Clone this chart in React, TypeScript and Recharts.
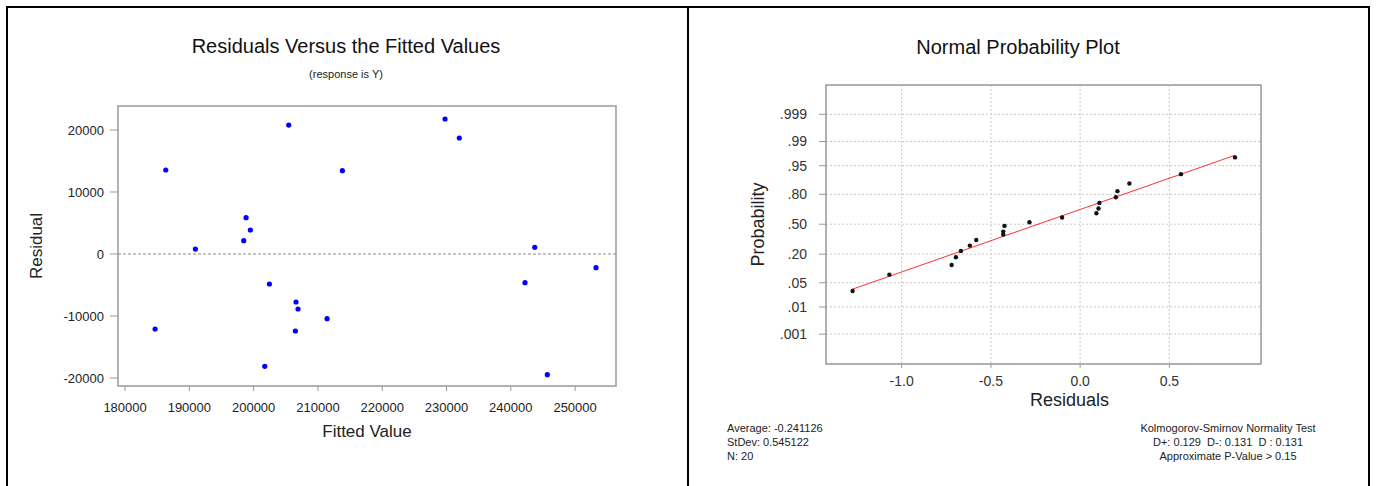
import React from "react";
import {
  ScatterChart,
  Scatter,
  XAxis,
  YAxis,
  CartesianGrid,
  ReferenceLine,
  ReferenceArea,
  Label,
} from "recharts";

// residuals vs fits (left panel)
const fittedValues = [
  184670, 186330, 190940, 198460, 198820, 199490, 201730, 202450, 205460, 206590,
  206900, 206490, 211420, 213800, 229770, 231990, 243720, 242210, 245680, 253250,
];
const residualValues = [
  -12100, 13550, 800, 2150, 5860, 3870, -18110, -4840, 20800, -7740,
  -8870, -12420, -10430, 13440, 21770, 18710, 1080, -4620, -19460, -2200,
];
const fittedTicks = [180000, 190000, 200000, 210000, 220000, 230000, 240000, 250000];
const residualTicks = [-20000, -10000, 0, 10000, 20000];
const fittedDomain = [178900, 256360];
const residualDomain = [-21290, 23870];

// normal probability plot (right panel)
const sortedResiduals = [
  -1.275, -1.069, -0.72, -0.696, -0.668, -0.618, -0.582, -0.431, -0.431, -0.424,
  -0.284, -0.101, 0.091, 0.103, 0.108, 0.2, 0.209, 0.276, 0.565, 0.868,
];
const normalScores = [
  -1.879, -1.418, -1.146, -0.93, -0.752, -0.601, -0.442, -0.291, -0.207, -0.047,
  0.056, 0.188, 0.31, 0.441, 0.6, 0.76, 0.93, 1.146, 1.408, 1.879,
];
const fitLineResiduals = [-1.278, 0.868];
const fitLineScores = [-1.83, 1.94];
const residualAxisTicks = [-1.0, -0.5, 0.0, 0.5];
const probabilityScores = [-3.09, -2.326, -1.645, -0.842, 0, 0.842, 1.645, 2.326, 3.09];
const probabilityLabels = [".001", ".01", ".05", ".20", ".50", ".80", ".95", ".99", ".999"];
const npDomainX = [-1.424, 1.0134];
const npDomainY = [-3.93, 3.915];

const statsLeft = ["Average: -0.241126", "StDev: 0.545122", "N: 20"];
const statsRight = [
  "Kolmogorov-Smirnov Normality Test",
  "D+: 0.129  D-: 0.131  D : 0.131",
  "Approximate P-Value > 0.15",
];

const FONT = 'Arial, "Liberation Sans", sans-serif';
const BOX = "#9a9a9a";

const fitsData = fittedValues.map((x, i) => ({ x, y: residualValues[i] }));
const npData = sortedResiduals.map((x, i) => ({ x, y: normalScores[i] }));
const lineData = fitLineResiduals.map((x, i) => ({ x, y: fitLineScores[i] }));

const blueDot = (p: any) => <circle cx={p.cx} cy={p.cy} r={2.6} fill="#0000ff" />;
const blackDot = (p: any) => <circle cx={p.cx} cy={p.cy} r={2.2} fill="#111" />;

// axis title drawn relative to the axis box
const axisTitle = (text: string, size: number, dx: number, dy: number, vertical = false) =>
  (p: any) => {
    const vb = p.viewBox;
    if (vertical) {
      const x = vb.x + dx;
      const y = vb.y + vb.height / 2 + dy;
      return (
        <text x={x} y={y} transform={`rotate(-90, ${x}, ${y})`} textAnchor="middle"
          dominantBaseline="central" fontSize={size} fill="#222" fontFamily={FONT}>
          {text}
        </text>
      );
    }
    return (
      <text x={vb.x + vb.width / 2 + dx} y={vb.y + dy} textAnchor="middle"
        dominantBaseline="central" fontSize={size} fill="#222" fontFamily={FONT}>
        {text}
      </text>
    );
  };

const line = (style: React.CSSProperties) => (
  <div style={{ position: "absolute", background: "#000", ...style }} />
);

export default function App() {
  return (
    <div style={{ position: "absolute", left: 0, top: 0, width: 1376, height: 486,
      background: "#fff", overflow: "hidden", fontFamily: FONT }}>
      {line({ left: 6, top: 6, width: 1364, height: 2 })}
      {line({ left: 6, top: 6, width: 2, height: 480 })}
      {line({ left: 687, top: 6, width: 2, height: 480 })}
      {line({ left: 1368, top: 6, width: 2, height: 480 })}

      {/* left panel */}
      <div style={{ position: "absolute", left: 146, top: 34, width: 400, textAlign: "center",
        fontSize: 20, lineHeight: "24px", color: "#111" }}>
        Residuals Versus the Fitted Values
      </div>
      <div style={{ position: "absolute", left: 246, top: 67, width: 200, textAlign: "center",
        fontSize: 11, lineHeight: "14px", color: "#222" }}>
        (response is Y)
      </div>
      <div style={{ position: "absolute", left: 0, top: 0 }}>
        <ScatterChart width={688} height={486} margin={{ top: 106, right: 72, bottom: 70, left: 58 }}>
          <XAxis type="number" dataKey="x" domain={fittedDomain} ticks={fittedTicks}
            allowDataOverflow axisLine={false} tickSize={5} tickMargin={12}
            tickLine={{ stroke: BOX }} tick={{ fill: "#222", fontSize: 13 }} height={30}>
            <Label content={axisTitle("Fitted Value", 17, 0, 45)} />
          </XAxis>
          <YAxis type="number" dataKey="y" domain={residualDomain} ticks={residualTicks}
            allowDataOverflow axisLine={false} tickSize={8} tickMargin={6}
            tickLine={{ stroke: BOX }} tick={{ fill: "#222", fontSize: 13 }} width={60}>
            <Label content={axisTitle("Residual", 17, -22, 0, true)} />
          </YAxis>
          <ReferenceArea x1={fittedDomain[0]} x2={fittedDomain[1]} y1={residualDomain[0]}
            y2={residualDomain[1]} fill="none" fillOpacity={0} stroke={BOX} strokeWidth={1.5} ifOverflow="visible" />
          <ReferenceLine y={0} stroke="#888" strokeDasharray="3 2" />
          <Scatter data={fitsData} shape={blueDot} isAnimationActive={false} />
        </ScatterChart>
      </div>

      {/* right panel */}
      <div style={{ position: "absolute", left: 818, top: 35, width: 400, textAlign: "center",
        fontSize: 20, lineHeight: "24px", color: "#111" }}>
        Normal Probability Plot
      </div>
      <div style={{ position: "absolute", left: 688, top: 0 }}>
        <ScatterChart width={688} height={486} margin={{ top: 85, right: 115, bottom: 92, left: 78 }}>
          <CartesianGrid stroke="#c8c8c8" strokeDasharray="2 2"
            verticalPoints={undefined} />
          <XAxis type="number" dataKey="x" domain={npDomainX} ticks={residualAxisTicks}
            allowDataOverflow axisLine={false} tickSize={4} tickMargin={8}
            tickFormatter={(v: number) => v.toFixed(1)}
            tickLine={{ stroke: BOX }} tick={{ fill: "#333", fontSize: 14 }} height={30}>
            <Label content={axisTitle("Residuals", 18, 26, 36)} />
          </XAxis>
          <YAxis type="number" dataKey="y" domain={npDomainY} ticks={probabilityScores}
            allowDataOverflow axisLine={false} tickSize={7} tickMargin={12}
            tickFormatter={(v: number) => probabilityLabels[probabilityScores.indexOf(v)]}
            tickLine={{ stroke: BOX }} tick={{ fill: "#333", fontSize: 14 }} width={60}>
            <Label content={axisTitle("Probability", 18, -8, 0, true)} />
          </YAxis>
          <ReferenceArea x1={npDomainX[0]} x2={npDomainX[1]} y1={npDomainY[0]}
            y2={npDomainY[1]} fill="none" fillOpacity={0} stroke={BOX} strokeWidth={1.5} ifOverflow="visible" />
          <Scatter data={lineData} line={{ stroke: "#ff3030", strokeWidth: 1 }}
            shape={() => <g />} isAnimationActive={false} />
          <Scatter data={npData} shape={blackDot} isAnimationActive={false} />
        </ScatterChart>
      </div>

      <div style={{ position: "absolute", left: 727, top: 421, fontSize: 11,
        lineHeight: "14px", color: "#222" }}>
        {statsLeft.map((s) => <div key={s}>{s}</div>)}
      </div>
      <div style={{ position: "absolute", left: 1078, top: 421, width: 300, textAlign: "center",
        fontSize: 11, lineHeight: "14px", color: "#222", whiteSpace: "pre" }}>
        {statsRight.map((s) => <div key={s}>{s}</div>)}
      </div>
    </div>
  );
}
